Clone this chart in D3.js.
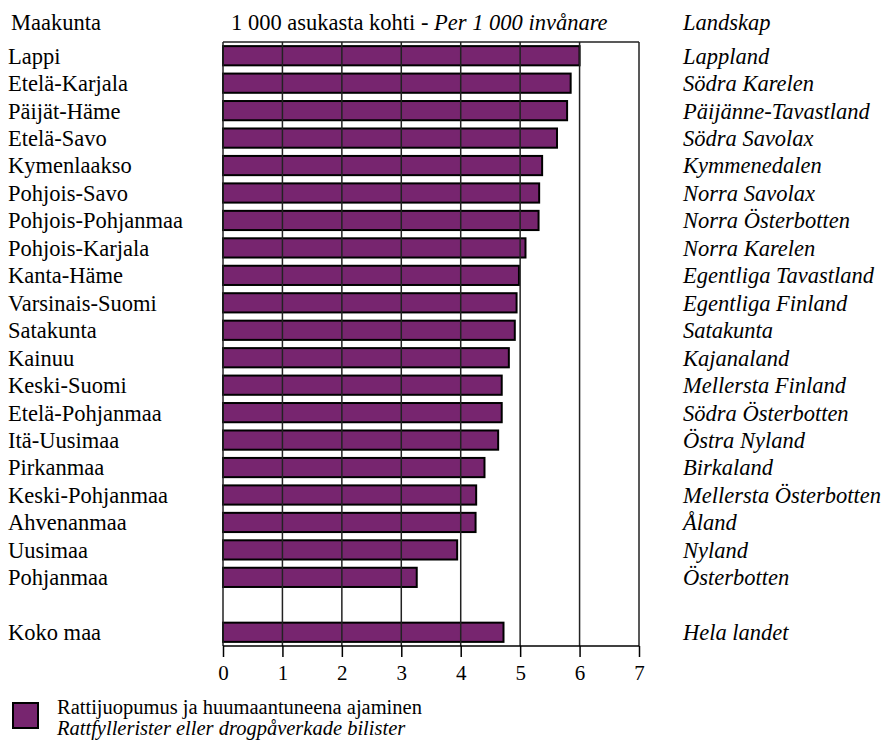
<!DOCTYPE html>
<html><head><meta charset="utf-8">
<script src="https://cdn.jsdelivr.net/npm/d3@7"></script>
<style>body{margin:0;background:#fff}svg{display:block}</style>
</head><body>
<svg id="c" width="885" height="740"></svg>
<script>
const regionsFi = ["Lappi","Etelä-Karjala","Päijät-Häme","Etelä-Savo","Kymenlaakso","Pohjois-Savo","Pohjois-Pohjanmaa","Pohjois-Karjala","Kanta-Häme","Varsinais-Suomi","Satakunta","Kainuu","Keski-Suomi","Etelä-Pohjanmaa","Itä-Uusimaa","Pirkanmaa","Keski-Pohjanmaa","Ahvenanmaa","Uusimaa","Pohjanmaa"];
const regionsSv = ["Lappland","Södra Karelen","Päijänne-Tavastland","Södra Savolax","Kymmenedalen","Norra Savolax","Norra Österbotten","Norra Karelen","Egentliga Tavastland","Egentliga Finland","Satakunta","Kajanaland","Mellersta Finland","Södra Österbotten","Östra Nyland","Birkaland","Mellersta Österbotten","Åland","Nyland","Österbotten"];
const values = [6.0,5.85,5.79,5.62,5.37,5.32,5.31,5.09,4.98,4.94,4.91,4.81,4.69,4.69,4.63,4.40,4.26,4.25,3.94,3.26];
const totalFi = "Koko maa", totalSv = "Hela landet", totalValue = 4.72;
const xTicks = [0,1,2,3,4,5,6,7];
const headerFi = "Maakunta", headerSv = "Landskap";
const titleNormal = "1 000 asukasta kohti - ", titleItalic = "Per 1 000 invånare";
const legendFi = "Rattijuopumus ja huumaantuneena ajaminen", legendSv = "Rattfyllerister eller drogpåverkade bilister";
const barColor = "#77256f";

const FONT = "Liberation Serif";
const rows = regionsFi.map((d,i)=>({fi:d, sv:regionsSv[i], v:values[i]}));
rows.push({fi:"", sv:"", v:null, gap:true});
rows.push({fi:totalFi, sv:totalSv, v:totalValue});

const svg = d3.select("#c");
const pLeft = 223, pRight = 639, pTop = 42, pBottom = 646;
const x = d3.scaleLinear().domain([0,7]).range([pLeft,pRight]);
const y = d3.scaleBand().domain(rows.map((d,i)=>i)).range([pTop,pBottom]).paddingInner(0.3).paddingOuter(0.15);
const fs = 22.5;

function txt(g, xx, yy, s, italic, size){
  return g.append("text").attr("x",xx).attr("y",yy)
    .style("font-family",FONT).style("font-size",(size||fs)+"px").style("fill","#000")
    .style("font-style", italic ? "italic" : "normal").text(s);
}

// bars
svg.append("g").selectAll("rect").data(rows.map((d,i)=>({...d,i})).filter(d=>d.v!=null)).join("rect")
  .attr("x", x(0)).attr("y", d=>y(d.i)).attr("width", d=>x(d.v)-x(0)).attr("height", y.bandwidth())
  .attr("fill", barColor).attr("stroke","#000").attr("stroke-width",2);

// grid lines on top
svg.append("g").selectAll("line").data(xTicks).join("line")
  .attr("x1", d=>x(d)).attr("x2", d=>x(d)).attr("y1", pTop).attr("y2", pBottom)
  .attr("stroke","#222").attr("stroke-width",1.5);
svg.append("line").attr("x1",pLeft).attr("x2",pRight).attr("y1",pTop).attr("y2",pTop).attr("stroke","#222").attr("stroke-width",1.5);

// axis
const ax = svg.append("g").attr("transform",`translate(0,${pBottom})`)
  .call(d3.axisBottom(x).tickValues(xTicks).tickFormat(d3.format("d")).tickSize(11).tickPadding(8));
ax.select(".domain").attr("stroke","#000").attr("stroke-width",1.5).attr("d",`M${pLeft},0H${pRight}`);
ax.selectAll(".tick line").attr("stroke","#000").attr("stroke-width",1.5);
ax.selectAll(".tick text").style("font-size","21px").style("font-family",FONT).style("fill","#000");

// labels
const lab = svg.append("g");
rows.forEach((d,i)=>{
  if(d.gap) return;
  const cy = y(i)+y.bandwidth()/2;
  txt(lab, 8, cy, d.fi, false).attr("dy","0.35em");
  txt(lab, 683, cy, d.sv, true).attr("dy","0.35em");
});
// headers
txt(svg, 11, 30, headerFi, false);
txt(svg, 683, 30, headerSv, true);
const t = txt(svg, 231, 30, "", false);
t.append("tspan").text(titleNormal);
t.append("tspan").style("font-style","italic").text(titleItalic);

// legend
svg.append("rect").attr("x",13).attr("y",703).attr("width",25).attr("height",25).attr("fill",barColor).attr("stroke","#000").attr("stroke-width",2);
txt(svg, 57, 714, legendFi, false, 20.5);
txt(svg, 57, 735, legendSv, true, 20.5);
</script>
</body></html>
